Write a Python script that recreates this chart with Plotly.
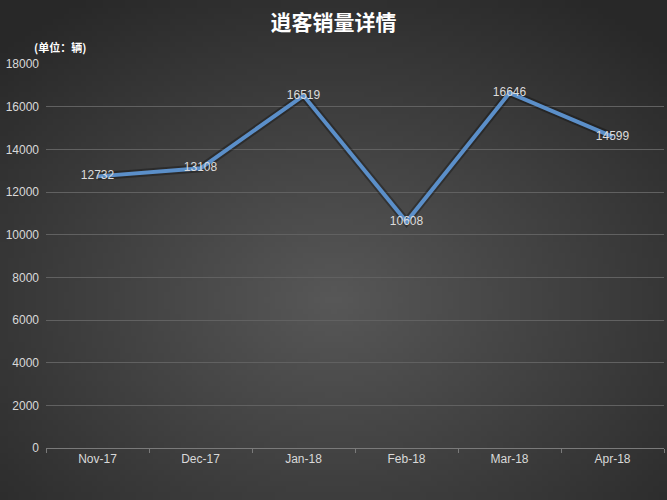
import base64
import struct
import zlib

import plotly.graph_objects as go

months = ['Nov-17', 'Dec-17', 'Jan-18', 'Feb-18', 'Mar-18', 'Apr-18']
sales = [12732, 13108, 16519, 10608, 16646, 14599]

W, H = 667, 500
ML, MR, MT, MB = 46, 3, 64, 52


def bg_png(w=120, h=90):
    # dark radial backdrop, lighter toward the middle
    rows = b''
    for j in range(h):
        rows += b'\x00'
        for i in range(w):
            dx = (i + 0.5) / w - 0.5
            dy = (j + 0.5) / h - 0.6
            d = min(1.0, (dx * dx + dy * dy) ** 0.5 / 0.72)
            v = int(88 - 48 * d)
            rows += bytes((v, v, v))

    def chunk(tag, data):
        c = tag + data
        return struct.pack('>I', len(data)) + c + struct.pack('>I', zlib.crc32(c) & 0xffffffff)

    png = b'\x89PNG\r\n\x1a\n'
    png += chunk(b'IHDR', struct.pack('>IIBBBBB', w, h, 8, 2, 0, 0, 0))
    png += chunk(b'IDAT', zlib.compress(rows, 9))
    png += chunk(b'IEND', b'')
    return 'data:image/png;base64,' + base64.b64encode(png).decode()


pw, ph = W - ML - MR, H - MT - MB

fig = go.Figure()
fig.add_trace(go.Scatter(x=months, y=sales, mode='lines', hoverinfo='skip',
                         line=dict(color='rgba(0,0,0,0.3)', width=8), showlegend=False))
fig.add_trace(go.Scatter(x=months, y=sales, mode='lines+text', text=[str(v) for v in sales],
                         textposition='middle center',
                         textfont=dict(color='#dcdcdc', size=12, family='Liberation Sans, Arial'),
                         line=dict(color='#5b8fc9', width=4), showlegend=False))

fig.update_layout(
    width=W, height=H,
    margin=dict(l=ML, r=MR, t=MT, b=MB),
    paper_bgcolor='#333333',
    plot_bgcolor='rgba(0,0,0,0)',
    title=dict(text='<b>逍客销量详情</b>', x=0.5, xanchor='center', y=0.955, yanchor='middle',
               font=dict(size=21, color='white', family='Noto Sans CJK SC')),
    images=[dict(source=bg_png(), xref='paper', yref='paper',
                 x=-ML / pw, y=1 + MT / ph, sizex=W / pw, sizey=H / ph,
                 xanchor='left', yanchor='top', sizing='stretch', layer='below')],
    annotations=[dict(text='<b>(单位：辆)</b>', xref='paper', yref='paper',
                      x=-14 / pw, y=1 + 17 / ph, xanchor='left', yanchor='middle', showarrow=False,
                      font=dict(size=11, color='white', family='Noto Sans CJK SC'))],
    xaxis=dict(type='category', range=[-0.5, 5.5], showgrid=False, showline=True,
               linecolor='#7a7a7a', linewidth=1, ticks='outside', tickson='boundaries',
               ticklen=4, tickcolor='#7a7a7a',
               tickfont=dict(size=12, color='#d9d9d9', family='Liberation Sans, Arial')),
    yaxis=dict(range=[0, 18000], dtick=2000, tickformat='d', showgrid=True,
               gridcolor='#616161', gridwidth=1,
               zeroline=False, showline=False, ticks='', ticklabelstandoff=6,
               tickfont=dict(size=12, color='#d9d9d9', family='Liberation Sans, Arial')),
)

fig.write_html('out.html', config={'displayModeBar': False},
               post_script="document.body.style.margin='0';")
